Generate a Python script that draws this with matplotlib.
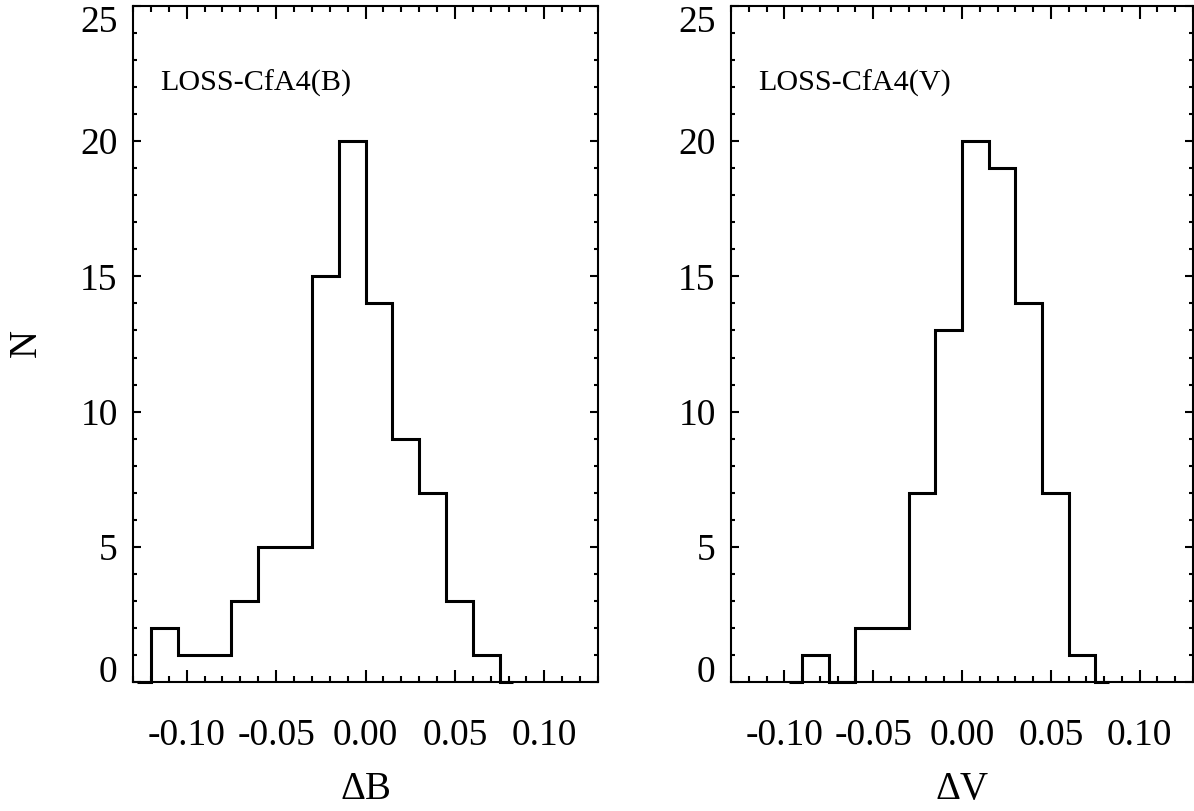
import numpy as np
import matplotlib.pyplot as plt
from matplotlib.ticker import MultipleLocator

plt.rcParams['font.family'] = ['Liberation Serif', 'DejaVu Serif']

# histogram bins (width 0.015) and counts
edges_b = [-0.120, -0.105, -0.090, -0.075, -0.060, -0.045, -0.030,
           -0.015, 0.000, 0.015, 0.030, 0.045, 0.060, 0.075]
counts_b = [2, 1, 1, 3, 5, 5, 15, 20, 14, 9, 7, 3, 1]

edges_v = [-0.090, -0.075, -0.060, -0.045, -0.030, -0.015, 0.000,
           0.015, 0.030, 0.045, 0.060, 0.075]
counts_v = [1, 0, 2, 2, 7, 13, 20, 19, 14, 7, 1]

xticks = [-0.10, -0.05, 0.00, 0.05, 0.10]
xticklabels = ['-0.10', '-0.05', '0.00', '0.05', '0.10']
yticks = [0, 5, 10, 15, 20, 25]

fig = plt.figure(figsize=(11.94, 8.11), dpi=100)
ax1 = fig.add_axes([133/1194, 1-682/811, 465/1194, 676/811])
ax2 = fig.add_axes([731/1194, 1-682/811, 462/1194, 676/811])

panels = [(ax1, edges_b, counts_b, 'LOSS-CfA4(B)', '\u0394B'),
          (ax2, edges_v, counts_v, 'LOSS-CfA4(V)', '\u0394V')]

for ax, edges, counts, name, xlab in panels:
    # IDL-style histogram: half-bin zero steps on both ends
    half = 0.0075
    e = [edges[0] - half] + edges + [edges[-1] + half]
    v = [0] + counts + [0]
    ax.stairs(v, e, baseline=None, color='black', lw=2.2, clip_on=False)

    ax.set_xlim(-0.13, 0.13)
    ax.set_ylim(0, 25)
    ax.set_xticks(xticks)
    ax.set_xticklabels(xticklabels)
    ax.set_yticks(yticks)
    ax.xaxis.set_minor_locator(MultipleLocator(0.01))
    ax.yaxis.set_minor_locator(MultipleLocator(1))

    ax.tick_params(which='both', direction='in', top=True, right=True,
                   width=1.5, labelsize=27, colors='black')
    ax.tick_params(axis='x', which='major', length=9, pad=26)
    ax.tick_params(axis='x', which='minor', length=4.5)
    ax.tick_params(axis='y', which='major', length=6, pad=11)
    ax.tick_params(axis='y', which='minor', length=3)
    for s in ax.spines.values():
        s.set_linewidth(1.5)

    labs = ax.get_yticklabels()
    labs[0].set_va('baseline')
    labs[-1].set_va('top')

    ax.text(-0.1148, 21.86, name, fontsize=21.7, va='baseline')
    ax.set_xlabel(xlab, fontsize=28, labelpad=13)

fig.text(26/1194, 1-343/811, 'N', fontsize=28, rotation=90,
         ha='center', va='center')

fig.savefig('out.png', dpi=100)
